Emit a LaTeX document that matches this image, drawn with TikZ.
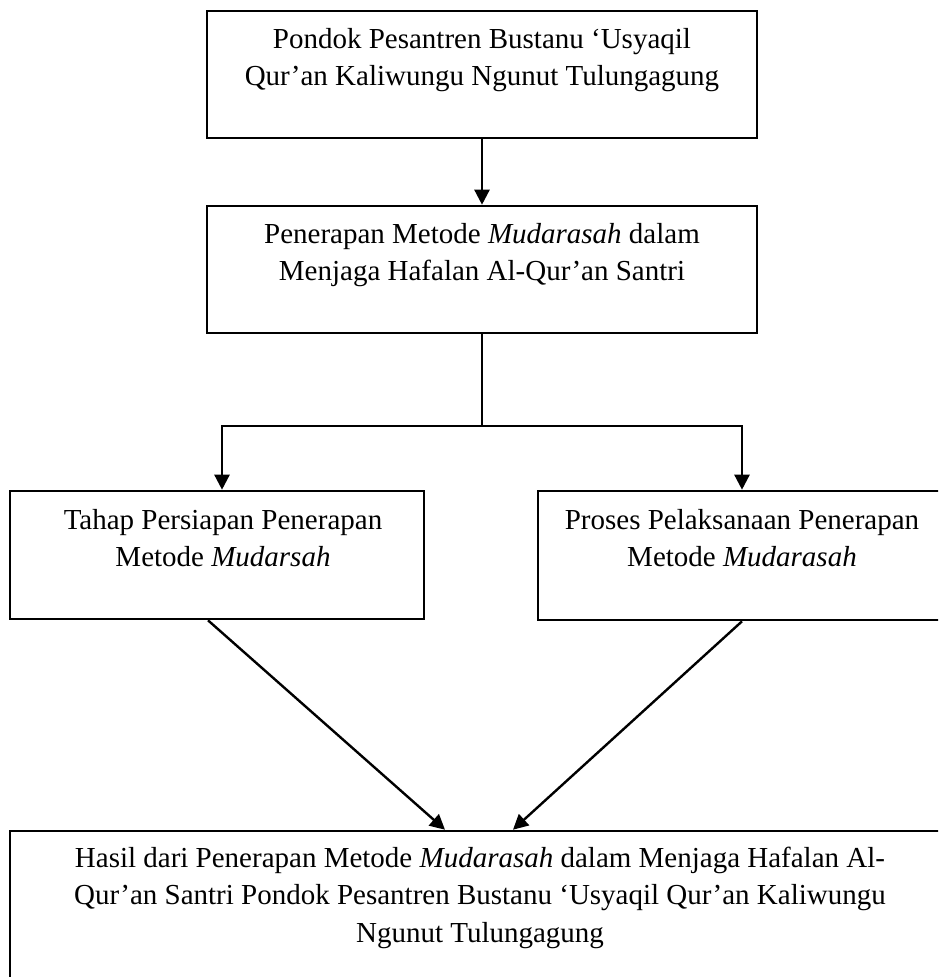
\documentclass[tikz,border=0pt]{standalone}
\usepackage{fontspec}
\setmainfont{Liberation Serif}
\usetikzlibrary{arrows.meta,calc}
\begin{document}
\begin{tikzpicture}[x=1pt,y=-1pt,
  box/.style={draw, line width=2.6pt, rectangle, inner sep=0pt},
  txt/.style={inner sep=0pt, anchor=base, font=\fontsize{29}{37.5}\selectfont},
  ln/.style={line width=2.4pt},
  arr/.style={line width=2.4pt, -{Triangle[length=15pt,width=15pt]}}]
\useasboundingbox (0,0) rectangle (938,977);
\clip (0,0) rectangle (938,977);
% boxes
\node[box, minimum width=550pt, minimum height=127pt] (b1) at (482,74.5) {};
\node[box, minimum width=550pt, minimum height=127pt] (b2) at (482,269.5) {};
\node[box, minimum width=414pt, minimum height=128pt] (b3) at (217,555) {};
\node[box, minimum width=408pt, minimum height=129pt] (b4) at (742,555.5) {};
\node[box, minimum width=940pt, minimum height=178pt] (b5) at (480,920) {};
% texts
\node[txt] (t1) at (482,48) {\begin{tabular}[t]{@{}c@{}}Pondok Pesantren Bustanu ‘Usyaqil\\Qur’an Kaliwungu Ngunut Tulungagung\end{tabular}};
\node[txt] (t2) at (482,243) {\begin{tabular}[t]{@{}c@{}}Penerapan Metode \textit{Mudarasah} dalam\\Menjaga Hafalan Al-Qur’an Santri\end{tabular}};
\node[txt] (t3) at (223,529) {\begin{tabular}[t]{@{}c@{}}Tahap Persiapan Penerapan\\Metode \textit{Mudarsah}\end{tabular}};
\node[txt] (t4) at (742,529) {\begin{tabular}[t]{@{}c@{}}Proses Pelaksanaan Penerapan\\Metode \textit{Mudarasah}\end{tabular}};
\node[txt] (t5) at (480,867) {\begin{tabular}[t]{@{}c@{}}Hasil dari Penerapan Metode \textit{Mudarasah} dalam Menjaga Hafalan Al-\\Qur’an Santri Pondok Pesantren Bustanu ‘Usyaqil Qur’an Kaliwungu\\Ngunut Tulungagung\end{tabular}};
% connectors
\coordinate (j) at (482,426);
\draw[arr] (b1.south) -- (b2.north);
\draw[ln] (b2.south) -- (j);
\draw[arr] (j) -| ($(b3.north)+(5,0)$);
\draw[arr] (j) -| (b4.north);
\draw[arr] ($(b3.south)+(-9,0)$) -- ($(b5.north)+(-35,0)$);
\draw[arr] (b4.south) -- ($(b5.north)+(33,0)$);
\end{tikzpicture}
\end{document}
